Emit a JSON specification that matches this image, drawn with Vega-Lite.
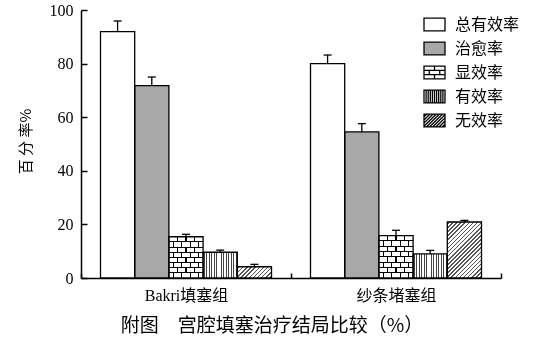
{
  "$schema": "https://vega.github.io/schema/vega-lite/v6.json",
  "width": 420,
  "height": 268,
  "autosize": "none",
  "padding": {"left": 81, "top": 10, "right": 53, "bottom": 73},
  "background": "white",
  "config": {"view": {"stroke": null}},
  "title": {"text": "附图　宫腔填塞治疗结局比较（%）", "orient": "bottom", "anchor": "middle", "dx": -19, "offset": 14, "font": "Noto Sans CJK SC", "fontSize": 19, "fontWeight": "normal", "color": "black"},
  "data": {"values": [
    {"group": "Bakri填塞组", "type": "总有效率", "value": 91.9, "upper": 95.9},
    {"group": "Bakri填塞组", "type": "治愈率", "value": 71.8, "upper": 75.0},
    {"group": "Bakri填塞组", "type": "显效率", "value": 15.4, "upper": 16.3},
    {"group": "Bakri填塞组", "type": "有效率", "value": 9.6, "upper": 10.4},
    {"group": "Bakri填塞组", "type": "无效率", "value": 4.2, "upper": 5.1},
    {"group": "纱条堵塞组", "type": "总有效率", "value": 80.0, "upper": 83.2},
    {"group": "纱条堵塞组", "type": "治愈率", "value": 54.5, "upper": 57.6},
    {"group": "纱条堵塞组", "type": "显效率", "value": 15.8, "upper": 17.8},
    {"group": "纱条堵塞组", "type": "有效率", "value": 9.0, "upper": 10.3},
    {"group": "纱条堵塞组", "type": "无效率", "value": 20.9, "upper": 21.5}
  ]},
  "encoding": {
    "x": {"field": "group", "type": "nominal", "sort": ["Bakri填塞组", "纱条堵塞组"], "scale": {"paddingInner": 0, "paddingOuter": 0},
      "axis": {"title": null, "labelAngle": 0, "tickBand": "extent", "tickSize": -5, "labelPadding": 14, "labelFont": "Liberation Serif, Noto Sans CJK SC", "labelFontSize": 16, "labelColor": "black", "domainColor": "black", "domainWidth": 1.5, "tickColor": "black", "tickWidth": 1.5}},
    "xOffset": {"field": "type", "type": "nominal", "sort": ["总有效率", "治愈率", "显效率", "有效率", "无效率"], "scale": {"domain": ["总有效率", "治愈率", "显效率", "有效率", "无效率"], "paddingInner": 0, "paddingOuter": 0.57}},
    "y": {"field": "value", "type": "quantitative", "scale": {"domain": [0, 100], "nice": false},
      "axis": {"title": "百 分 率%", "values": [0, 20, 40, 60, 80, 100], "grid": false, "tickSize": -6, "labelPadding": 14, "labelFont": "Liberation Serif", "labelFontSize": 16, "labelColor": "black", "domainColor": "black", "domainWidth": 1.5, "tickColor": "black", "tickWidth": 1.5, "titleFont": "Noto Sans CJK SC", "titleFontSize": 15, "titleFontWeight": "normal", "titleColor": "black", "titlePadding": 16, "titleY": 131}}
  },
  "layer": [
    {
      "mark": {"type": "bar"},
      "encoding": {
        "color": {"field": "type", "type": "nominal", "scale": {"domain": ["总有效率", "治愈率", "显效率", "有效率", "无效率"], "range": ["white", "#a8a8a8", "white", "white", "white"]},
          "legend": {"orient": "none", "legendX": 342, "legendY": 3, "title": null, "symbolSize": 441, "labelFontSize": 16, "labelFont": "Noto Sans CJK SC", "labelColor": "black", "labelOffset": 9, "rowPadding": 3, "padding": 0,
            "encode": {"symbols": {"update": {
              "shape": {"signal": "datum.value === '显效率' ? 'M-1,-0.6H1V0.6H-1Z M-1,-0.2H1 M-1,0.2H1 M0,-0.6V-0.2 M-0.5,-0.2V0.2 M0.5,-0.2V0.2 M0,0.2V0.6' : datum.value === '有效率' ? 'M-1,-0.6H1V0.6H-1Z M-0.8,-0.6V0.6 M-0.6,-0.6V0.6 M-0.4,-0.6V0.6 M-0.2,-0.6V0.6 M0,-0.6V0.6 M0.2,-0.6V0.6 M0.4,-0.6V0.6 M0.6,-0.6V0.6 M0.8,-0.6V0.6' : datum.value === '无效率' ? 'M-1,-0.6H1V0.6H-1Z M-1,-0.35L-0.75,-0.6 M-1,-0.05L-0.45,-0.6 M-1,0.25L-0.15,-0.6 M-1,0.55L0.15,-0.6 M-0.75,0.6L0.45,-0.6 M-0.45,0.6L0.75,-0.6 M-0.15,0.6L1,-0.55 M0.15,0.6L1,-0.25 M0.45,0.6L1,0.05 M0.75,0.6L1,0.35' : 'M-1,-0.6H1V0.6H-1Z'"},
              "stroke": {"value": "black"},
              "strokeWidth": {"value": 1.3}
            }}}}
        }
      }
    },
    {
      "transform": [{"filter": "datum.type === '有效率'"}],
      "mark": {"type": "bar", "fill": {"gradient": "linear", "x1": 0, "y1": 0, "x2": 1, "y2": 0, "stops": [
        {"offset": 0, "color": "rgba(255,255,255,0)"},
        {"offset": 0.0217, "color": "rgba(255,255,255,0)"}, {"offset": 0.0217, "color": "#444"}, {"offset": 0.0497, "color": "#444"}, {"offset": 0.0497, "color": "rgba(255,255,255,0)"},
        {"offset": 0.0931, "color": "rgba(255,255,255,0)"}, {"offset": 0.0931, "color": "#444"}, {"offset": 0.1211, "color": "#444"}, {"offset": 0.1211, "color": "rgba(255,255,255,0)"},
        {"offset": 0.1646, "color": "rgba(255,255,255,0)"}, {"offset": 0.1646, "color": "#444"}, {"offset": 0.1926, "color": "#444"}, {"offset": 0.1926, "color": "rgba(255,255,255,0)"},
        {"offset": 0.236, "color": "rgba(255,255,255,0)"}, {"offset": 0.236, "color": "#444"}, {"offset": 0.264, "color": "#444"}, {"offset": 0.264, "color": "rgba(255,255,255,0)"},
        {"offset": 0.3074, "color": "rgba(255,255,255,0)"}, {"offset": 0.3074, "color": "#444"}, {"offset": 0.3354, "color": "#444"}, {"offset": 0.3354, "color": "rgba(255,255,255,0)"},
        {"offset": 0.3789, "color": "rgba(255,255,255,0)"}, {"offset": 0.3789, "color": "#444"}, {"offset": 0.4069, "color": "#444"}, {"offset": 0.4069, "color": "rgba(255,255,255,0)"},
        {"offset": 0.4503, "color": "rgba(255,255,255,0)"}, {"offset": 0.4503, "color": "#444"}, {"offset": 0.4783, "color": "#444"}, {"offset": 0.4783, "color": "rgba(255,255,255,0)"},
        {"offset": 0.5217, "color": "rgba(255,255,255,0)"}, {"offset": 0.5217, "color": "#444"}, {"offset": 0.5497, "color": "#444"}, {"offset": 0.5497, "color": "rgba(255,255,255,0)"},
        {"offset": 0.5931, "color": "rgba(255,255,255,0)"}, {"offset": 0.5931, "color": "#444"}, {"offset": 0.6211, "color": "#444"}, {"offset": 0.6211, "color": "rgba(255,255,255,0)"},
        {"offset": 0.6646, "color": "rgba(255,255,255,0)"}, {"offset": 0.6646, "color": "#444"}, {"offset": 0.6926, "color": "#444"}, {"offset": 0.6926, "color": "rgba(255,255,255,0)"},
        {"offset": 0.736, "color": "rgba(255,255,255,0)"}, {"offset": 0.736, "color": "#444"}, {"offset": 0.764, "color": "#444"}, {"offset": 0.764, "color": "rgba(255,255,255,0)"},
        {"offset": 0.8074, "color": "rgba(255,255,255,0)"}, {"offset": 0.8074, "color": "#444"}, {"offset": 0.8354, "color": "#444"}, {"offset": 0.8354, "color": "rgba(255,255,255,0)"},
        {"offset": 0.8789, "color": "rgba(255,255,255,0)"}, {"offset": 0.8789, "color": "#444"}, {"offset": 0.9069, "color": "#444"}, {"offset": 0.9069, "color": "rgba(255,255,255,0)"},
        {"offset": 0.9503, "color": "rgba(255,255,255,0)"}, {"offset": 0.9503, "color": "#444"}, {"offset": 0.9783, "color": "#444"}, {"offset": 0.9783, "color": "rgba(255,255,255,0)"},
        {"offset": 1, "color": "rgba(255,255,255,0)"}
      ]}}
    },
    {
      "transform": [{"filter": "datum.type === '显效率'"}],
      "mark": {"type": "bar", "fill": {"gradient": "linear", "x1": 0, "y1": 0, "x2": 1, "y2": 0, "stops": [
        {"offset": 0, "color": "white"},
        {"offset": 0.11, "color": "white"}, {"offset": 0.11, "color": "black"}, {"offset": 0.14, "color": "black"}, {"offset": 0.14, "color": "white"},
        {"offset": 0.235, "color": "white"}, {"offset": 0.235, "color": "black"}, {"offset": 0.265, "color": "black"}, {"offset": 0.265, "color": "white"},
        {"offset": 0.36, "color": "white"}, {"offset": 0.36, "color": "black"}, {"offset": 0.39, "color": "black"}, {"offset": 0.39, "color": "white"},
        {"offset": 0.485, "color": "white"}, {"offset": 0.485, "color": "black"}, {"offset": 0.515, "color": "black"}, {"offset": 0.515, "color": "white"},
        {"offset": 0.61, "color": "white"}, {"offset": 0.61, "color": "black"}, {"offset": 0.64, "color": "black"}, {"offset": 0.64, "color": "white"},
        {"offset": 0.735, "color": "white"}, {"offset": 0.735, "color": "black"}, {"offset": 0.765, "color": "black"}, {"offset": 0.765, "color": "white"},
        {"offset": 0.86, "color": "white"}, {"offset": 0.86, "color": "black"}, {"offset": 0.89, "color": "black"}, {"offset": 0.89, "color": "white"},
        {"offset": 1, "color": "white"}
      ]}}
    },
    {
      "transform": [{"filter": "datum.type === '显效率'"}],
      "mark": {"type": "bar", "blend": "lighten", "fill": {"gradient": "linear", "x1": 0, "y1": 0, "x2": 0, "y2": 1, "stops": [
        {"offset": 0, "color": "black"}, {"offset": 0.125, "color": "black"}, {"offset": 0.125, "color": "white"}, {"offset": 0.25, "color": "white"},
        {"offset": 0.25, "color": "black"}, {"offset": 0.375, "color": "black"}, {"offset": 0.375, "color": "white"}, {"offset": 0.5, "color": "white"},
        {"offset": 0.5, "color": "black"}, {"offset": 0.625, "color": "black"}, {"offset": 0.625, "color": "white"}, {"offset": 0.75, "color": "white"},
        {"offset": 0.75, "color": "black"}, {"offset": 0.875, "color": "black"}, {"offset": 0.875, "color": "white"}, {"offset": 1, "color": "white"}
      ]}}
    },
    {
      "transform": [{"filter": "datum.type === '显效率'"}],
      "mark": {"type": "bar", "blend": "difference", "fill": {"gradient": "linear", "x1": 0, "y1": 0, "x2": 1, "y2": 0, "stops": [
        {"offset": 0, "color": "black"},
        {"offset": 0.11, "color": "black"}, {"offset": 0.11, "color": "white"}, {"offset": 0.14, "color": "white"}, {"offset": 0.14, "color": "black"},
        {"offset": 0.36, "color": "black"}, {"offset": 0.36, "color": "white"}, {"offset": 0.39, "color": "white"}, {"offset": 0.39, "color": "black"},
        {"offset": 0.61, "color": "black"}, {"offset": 0.61, "color": "white"}, {"offset": 0.64, "color": "white"}, {"offset": 0.64, "color": "black"},
        {"offset": 0.86, "color": "black"}, {"offset": 0.86, "color": "white"}, {"offset": 0.89, "color": "white"}, {"offset": 0.89, "color": "black"},
        {"offset": 1, "color": "black"}
      ]}}
    },
    {
      "transform": [{"filter": "datum.type === '显效率'"}],
      "mark": {"type": "bar", "fill": {"gradient": "linear", "x1": 0, "y1": 0, "x2": 0, "y2": 1, "stops": [
        {"offset": 0, "color": "rgba(255,255,255,0)"},
        {"offset": 0.112, "color": "rgba(255,255,255,0)"}, {"offset": 0.112, "color": "black"}, {"offset": 0.138, "color": "black"}, {"offset": 0.138, "color": "rgba(255,255,255,0)"},
        {"offset": 0.237, "color": "rgba(255,255,255,0)"}, {"offset": 0.237, "color": "black"}, {"offset": 0.263, "color": "black"}, {"offset": 0.263, "color": "rgba(255,255,255,0)"},
        {"offset": 0.362, "color": "rgba(255,255,255,0)"}, {"offset": 0.362, "color": "black"}, {"offset": 0.388, "color": "black"}, {"offset": 0.388, "color": "rgba(255,255,255,0)"},
        {"offset": 0.487, "color": "rgba(255,255,255,0)"}, {"offset": 0.487, "color": "black"}, {"offset": 0.513, "color": "black"}, {"offset": 0.513, "color": "rgba(255,255,255,0)"},
        {"offset": 0.612, "color": "rgba(255,255,255,0)"}, {"offset": 0.612, "color": "black"}, {"offset": 0.638, "color": "black"}, {"offset": 0.638, "color": "rgba(255,255,255,0)"},
        {"offset": 0.737, "color": "rgba(255,255,255,0)"}, {"offset": 0.737, "color": "black"}, {"offset": 0.763, "color": "black"}, {"offset": 0.763, "color": "rgba(255,255,255,0)"},
        {"offset": 0.862, "color": "rgba(255,255,255,0)"}, {"offset": 0.862, "color": "black"}, {"offset": 0.888, "color": "black"}, {"offset": 0.888, "color": "rgba(255,255,255,0)"},
        {"offset": 1, "color": "rgba(255,255,255,0)"}
      ]}}
    },
    {
      "transform": [{"filter": "datum.type === '无效率' && datum.group === 'Bakri填塞组'"}],
      "mark": {"type": "bar", "fill": {"gradient": "linear", "x1": 0, "y1": 0, "x2": 1.199, "y2": 0.395, "stops": [
        {"offset": 0, "color": "rgba(255,255,255,0)"},
        {"offset": 0.0295, "color": "rgba(255,255,255,0)"}, {"offset": 0.0295, "color": "#555"}, {"offset": 0.0615, "color": "#555"}, {"offset": 0.0615, "color": "rgba(255,255,255,0)"},
        {"offset": 0.1204, "color": "rgba(255,255,255,0)"}, {"offset": 0.1204, "color": "#555"}, {"offset": 0.1524, "color": "#555"}, {"offset": 0.1524, "color": "rgba(255,255,255,0)"},
        {"offset": 0.2113, "color": "rgba(255,255,255,0)"}, {"offset": 0.2113, "color": "#555"}, {"offset": 0.2433, "color": "#555"}, {"offset": 0.2433, "color": "rgba(255,255,255,0)"},
        {"offset": 0.3022, "color": "rgba(255,255,255,0)"}, {"offset": 0.3022, "color": "#555"}, {"offset": 0.3342, "color": "#555"}, {"offset": 0.3342, "color": "rgba(255,255,255,0)"},
        {"offset": 0.3931, "color": "rgba(255,255,255,0)"}, {"offset": 0.3931, "color": "#555"}, {"offset": 0.4251, "color": "#555"}, {"offset": 0.4251, "color": "rgba(255,255,255,0)"},
        {"offset": 0.484, "color": "rgba(255,255,255,0)"}, {"offset": 0.484, "color": "#555"}, {"offset": 0.516, "color": "#555"}, {"offset": 0.516, "color": "rgba(255,255,255,0)"},
        {"offset": 0.5749, "color": "rgba(255,255,255,0)"}, {"offset": 0.5749, "color": "#555"}, {"offset": 0.6069, "color": "#555"}, {"offset": 0.6069, "color": "rgba(255,255,255,0)"},
        {"offset": 0.6658, "color": "rgba(255,255,255,0)"}, {"offset": 0.6658, "color": "#555"}, {"offset": 0.6978, "color": "#555"}, {"offset": 0.6978, "color": "rgba(255,255,255,0)"},
        {"offset": 0.7567, "color": "rgba(255,255,255,0)"}, {"offset": 0.7567, "color": "#555"}, {"offset": 0.7887, "color": "#555"}, {"offset": 0.7887, "color": "rgba(255,255,255,0)"},
        {"offset": 0.8476, "color": "rgba(255,255,255,0)"}, {"offset": 0.8476, "color": "#555"}, {"offset": 0.8796, "color": "#555"}, {"offset": 0.8796, "color": "rgba(255,255,255,0)"},
        {"offset": 0.9385, "color": "rgba(255,255,255,0)"}, {"offset": 0.9385, "color": "#555"}, {"offset": 0.9705, "color": "#555"}, {"offset": 0.9705, "color": "rgba(255,255,255,0)"},
        {"offset": 1, "color": "rgba(255,255,255,0)"}
      ]}}
    },
    {
      "transform": [{"filter": "datum.type === '无效率' && datum.group === '纱条堵塞组'"}],
      "mark": {"type": "bar", "fill": {"gradient": "linear", "x1": 0, "y1": 0, "x2": 0.7163, "y2": 1.1733, "stops": [
        {"offset": 0, "color": "rgba(255,255,255,0)"},
        {"offset": 0.0137, "color": "rgba(255,255,255,0)"}, {"offset": 0.0137, "color": "#555"}, {"offset": 0.0317, "color": "#555"}, {"offset": 0.0317, "color": "rgba(255,255,255,0)"},
        {"offset": 0.0592, "color": "rgba(255,255,255,0)"}, {"offset": 0.0592, "color": "#555"}, {"offset": 0.0772, "color": "#555"}, {"offset": 0.0772, "color": "rgba(255,255,255,0)"},
        {"offset": 0.1046, "color": "rgba(255,255,255,0)"}, {"offset": 0.1046, "color": "#555"}, {"offset": 0.1226, "color": "#555"}, {"offset": 0.1226, "color": "rgba(255,255,255,0)"},
        {"offset": 0.1501, "color": "rgba(255,255,255,0)"}, {"offset": 0.1501, "color": "#555"}, {"offset": 0.1681, "color": "#555"}, {"offset": 0.1681, "color": "rgba(255,255,255,0)"},
        {"offset": 0.1955, "color": "rgba(255,255,255,0)"}, {"offset": 0.1955, "color": "#555"}, {"offset": 0.2135, "color": "#555"}, {"offset": 0.2135, "color": "rgba(255,255,255,0)"},
        {"offset": 0.241, "color": "rgba(255,255,255,0)"}, {"offset": 0.241, "color": "#555"}, {"offset": 0.259, "color": "#555"}, {"offset": 0.259, "color": "rgba(255,255,255,0)"},
        {"offset": 0.2865, "color": "rgba(255,255,255,0)"}, {"offset": 0.2865, "color": "#555"}, {"offset": 0.3045, "color": "#555"}, {"offset": 0.3045, "color": "rgba(255,255,255,0)"},
        {"offset": 0.3319, "color": "rgba(255,255,255,0)"}, {"offset": 0.3319, "color": "#555"}, {"offset": 0.3499, "color": "#555"}, {"offset": 0.3499, "color": "rgba(255,255,255,0)"},
        {"offset": 0.3774, "color": "rgba(255,255,255,0)"}, {"offset": 0.3774, "color": "#555"}, {"offset": 0.3954, "color": "#555"}, {"offset": 0.3954, "color": "rgba(255,255,255,0)"},
        {"offset": 0.4228, "color": "rgba(255,255,255,0)"}, {"offset": 0.4228, "color": "#555"}, {"offset": 0.4408, "color": "#555"}, {"offset": 0.4408, "color": "rgba(255,255,255,0)"},
        {"offset": 0.4683, "color": "rgba(255,255,255,0)"}, {"offset": 0.4683, "color": "#555"}, {"offset": 0.4863, "color": "#555"}, {"offset": 0.4863, "color": "rgba(255,255,255,0)"},
        {"offset": 0.5137, "color": "rgba(255,255,255,0)"}, {"offset": 0.5137, "color": "#555"}, {"offset": 0.5317, "color": "#555"}, {"offset": 0.5317, "color": "rgba(255,255,255,0)"},
        {"offset": 0.5592, "color": "rgba(255,255,255,0)"}, {"offset": 0.5592, "color": "#555"}, {"offset": 0.5772, "color": "#555"}, {"offset": 0.5772, "color": "rgba(255,255,255,0)"},
        {"offset": 0.6046, "color": "rgba(255,255,255,0)"}, {"offset": 0.6046, "color": "#555"}, {"offset": 0.6226, "color": "#555"}, {"offset": 0.6226, "color": "rgba(255,255,255,0)"},
        {"offset": 0.6501, "color": "rgba(255,255,255,0)"}, {"offset": 0.6501, "color": "#555"}, {"offset": 0.6681, "color": "#555"}, {"offset": 0.6681, "color": "rgba(255,255,255,0)"},
        {"offset": 0.6955, "color": "rgba(255,255,255,0)"}, {"offset": 0.6955, "color": "#555"}, {"offset": 0.7135, "color": "#555"}, {"offset": 0.7135, "color": "rgba(255,255,255,0)"},
        {"offset": 0.741, "color": "rgba(255,255,255,0)"}, {"offset": 0.741, "color": "#555"}, {"offset": 0.759, "color": "#555"}, {"offset": 0.759, "color": "rgba(255,255,255,0)"},
        {"offset": 0.7865, "color": "rgba(255,255,255,0)"}, {"offset": 0.7865, "color": "#555"}, {"offset": 0.8045, "color": "#555"}, {"offset": 0.8045, "color": "rgba(255,255,255,0)"},
        {"offset": 0.8319, "color": "rgba(255,255,255,0)"}, {"offset": 0.8319, "color": "#555"}, {"offset": 0.8499, "color": "#555"}, {"offset": 0.8499, "color": "rgba(255,255,255,0)"},
        {"offset": 0.8774, "color": "rgba(255,255,255,0)"}, {"offset": 0.8774, "color": "#555"}, {"offset": 0.8954, "color": "#555"}, {"offset": 0.8954, "color": "rgba(255,255,255,0)"},
        {"offset": 0.9228, "color": "rgba(255,255,255,0)"}, {"offset": 0.9228, "color": "#555"}, {"offset": 0.9408, "color": "#555"}, {"offset": 0.9408, "color": "rgba(255,255,255,0)"},
        {"offset": 0.9683, "color": "rgba(255,255,255,0)"}, {"offset": 0.9683, "color": "#555"}, {"offset": 0.9863, "color": "#555"}, {"offset": 0.9863, "color": "rgba(255,255,255,0)"},
        {"offset": 1, "color": "rgba(255,255,255,0)"}
      ]}}
    },
    {
      "mark": {"type": "bar", "fill": "transparent", "stroke": "black", "strokeWidth": 1.3}
    },
    {
      "mark": {"type": "rule", "stroke": "black", "strokeWidth": 1.3},
      "encoding": {"y": {"field": "value", "type": "quantitative"}, "y2": {"field": "upper"}}
    },
    {
      "mark": {"type": "tick", "color": "black", "opacity": 1, "thickness": 1.3, "size": 8, "orient": "horizontal"},
      "encoding": {"y": {"field": "upper", "type": "quantitative"}}
    }
  ]
}
